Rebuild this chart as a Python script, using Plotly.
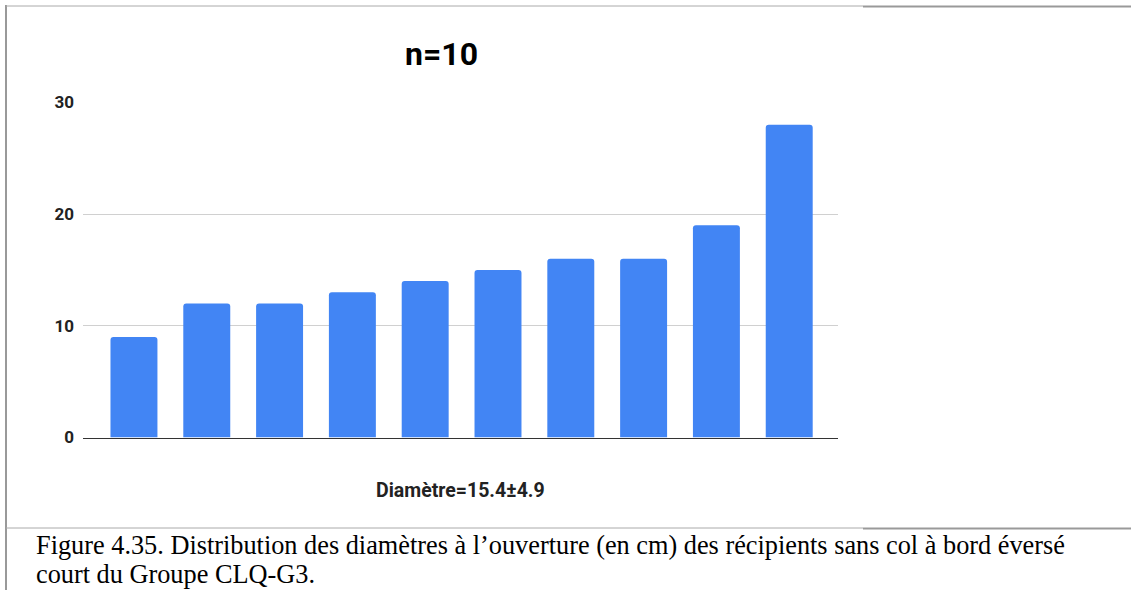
import plotly.graph_objects as go

# ---- data ----
categories = ["1", "2", "3", "4", "5", "6", "7", "8", "9", "10"]
diameters = [9, 12, 12, 13, 14, 15, 16, 16, 19, 28]
y_ticks = [0, 10, 20, 30]
title_text = "n=10"
x_title_text = "Diamètre=15.4±4.9"
caption_line1 = "Figure 4.35. Distribution des diamètres à l’ouverture (en cm) des récipients sans col à bord éversé"
caption_line2 = "court du Groupe CLQ-G3."

W, H = 1131, 590


def px(x):
    return x / W


def py(y):
    return 1 - y / H


fig = go.Figure()
fig.add_trace(go.Bar(
    x=categories,
    y=diameters,
    marker=dict(color="#4285F4", cornerradius=3, line=dict(width=0)),
    hoverinfo="x+y",
))

fig.update_layout(
    width=W, height=H,
    autosize=False,
    margin=dict(l=0, r=0, t=0, b=0, autoexpand=False),
    paper_bgcolor="white",
    plot_bgcolor="white",
    showlegend=False,
    bargap=0.355,
    xaxis=dict(
        domain=[px(83), px(838)],
        range=[-0.7, 9.67],
        showticklabels=False,
        ticks="",
        showgrid=False,
        showline=True,
        linecolor="#333333",
        linewidth=1,
        zeroline=False,
        automargin=False,
    ),
    yaxis=dict(
        domain=[py(437.5), py(102.3)],
        range=[0, 30],
        tickvals=y_ticks,
        showgrid=True,
        gridcolor="#d0d0d0",
        gridwidth=1,
        zeroline=False,
        showline=False,
        ticks="",
        automargin=False,
        ticklabelstandoff=8,
        tickfont=dict(family="Roboto", size=17, color="#222222", weight="bold"),
    ),
)

annotations = [
    dict(text=title_text, x=px(441.5), y=py(54), xref="paper", yref="paper",
         xanchor="center", yanchor="middle", showarrow=False,
         font=dict(family="Roboto", size=32, color="#000000", weight="bold")),
    dict(text=x_title_text, x=px(460), y=py(490), xref="paper", yref="paper",
         xanchor="center", yanchor="middle", showarrow=False,
         font=dict(family="Roboto", size=19.5, color="#222222", weight="bold")),
    dict(text=caption_line1, x=px(34), y=py(545), xref="paper", yref="paper",
         xanchor="left", yanchor="middle", showarrow=False,
         font=dict(family="Liberation Serif", size=26.3, color="#000000")),
    dict(text=caption_line2, x=px(34), y=py(574), xref="paper", yref="paper",
         xanchor="left", yanchor="middle", showarrow=False,
         font=dict(family="Liberation Serif", size=26.3, color="#000000")),
]
fig.update_layout(annotations=annotations)

shapes = [
    # left border
    dict(type="line", x0=px(6), x1=px(6), y0=py(5), y1=py(H + 2), xref="paper", yref="paper",
         line=dict(color="#999999", width=2)),
    # top border (thin part then thicker part)
    dict(type="line", x0=px(6), x1=px(863), y0=py(6), y1=py(6), xref="paper", yref="paper",
         line=dict(color="#aaaaaa", width=1)),
    dict(type="line", x0=px(863), x1=px(W), y0=py(6.5), y1=py(6.5), xref="paper", yref="paper",
         line=dict(color="#999999", width=2)),
    # bottom border of chart box
    dict(type="line", x0=px(6), x1=px(863), y0=py(528), y1=py(528), xref="paper", yref="paper",
         line=dict(color="#aaaaaa", width=1)),
    dict(type="line", x0=px(863), x1=px(W), y0=py(528.5), y1=py(528.5), xref="paper", yref="paper",
         line=dict(color="#999999", width=2)),
]
fig.update_layout(shapes=shapes)

fig.write_html(
    "out.html",
    config={"responsive": False, "displayModeBar": False},
    post_script="document.body.style.margin='0';document.body.style.overflow='hidden';",
)
